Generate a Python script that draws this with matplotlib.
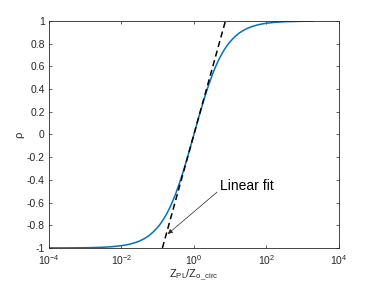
import matplotlib
matplotlib.use('Agg')
import matplotlib.pyplot as plt

plt.rcParams['font.family'] = ['Liberation Sans', 'DejaVu Sans']
plt.rcParams['mathtext.fontset'] = 'custom'
plt.rcParams['mathtext.rm'] = 'Liberation Sans'

# reflection coefficient vs normalised impedance
z_ratio = [1e-4, 3.16e-4, 1e-3, 1.78e-3, 3.16e-3, 5.62e-3, 1e-2, 1.33e-2,
           1.78e-2, 2.37e-2, 3.16e-2, 4.22e-2, 5.62e-2, 7.5e-2, 1e-1,
           1.15e-1, 1.33e-1, 1.54e-1, 1.78e-1, 2.05e-1, 2.37e-1, 2.74e-1,
           3.16e-1, 4.22e-1, 5.62e-1, 7.5e-1, 1.0, 1.33, 1.78, 2.37, 3.16,
           3.65, 4.22, 4.87, 5.62, 6.49, 7.5, 8.66, 10.0, 13.3, 17.8, 23.7,
           31.6, 42.2, 56.2, 75.0, 100.0, 178.0, 316.0, 1000.0, 2000.0]
rho = [-0.9998, -0.9994, -0.998, -0.9964, -0.9937, -0.9888, -0.980, -0.974,
       -0.965, -0.954, -0.939, -0.919, -0.894, -0.860, -0.818,
       -0.794, -0.765, -0.733, -0.698, -0.660, -0.617, -0.570,
       -0.520, -0.406, -0.280, -0.143, 0.0, 0.143, 0.280, 0.406, 0.520,
       0.570, 0.617, 0.660, 0.698, 0.733, 0.765, 0.793, 0.818, 0.860, 0.894,
       0.919, 0.939, 0.954, 0.965, 0.974, 0.980, 0.989, 0.9937, 0.998, 0.999]

# tangent (linear fit in log space)
fit_x = [0.135, 7.4]
fit_y = [-1.0, 1.0]

fig = plt.figure(figsize=(3.74, 2.84), dpi=100)
ax = fig.add_axes([0.131, 0.127, 0.775, 0.799])

ax.plot(z_ratio, rho, color='#0072BD', lw=1.1)
ax.plot(fit_x, fit_y, color='k', lw=1.1, ls=(0, (4, 2.5)))

ax.set_xscale('log')
ax.set_xlim(1e-4, 1e4)
ax.set_ylim(-1, 1)
ax.set_xticks([1e-4, 1e-2, 1e0, 1e2, 1e4])
ax.set_xticks([], minor=True)
ax.set_yticks([-1, -0.8, -0.6, -0.4, -0.2, 0, 0.2, 0.4, 0.6, 0.8, 1])
ax.set_yticklabels(['-1', '-0.8', '-0.6', '-0.4', '-0.2', '0', '0.2', '0.4',
                    '0.6', '0.8', '1'])

gray = '#262626'
for s in ax.spines.values():
    s.set_color(gray)
    s.set_linewidth(0.6)
ax.tick_params(which='both', direction='in', length=2.5, width=0.5,
               colors=gray, labelsize=7.5, top=True, right=True, pad=3)
ax.tick_params(axis='x', pad=4)

ax.set_ylabel('ρ', fontsize=8, color=gray, labelpad=2)
ax.set_xlabel(r'$\mathregular{Z_{PL}/Z_{o\_circ}}$', fontsize=8, color=gray,
              labelpad=0)

ax.annotate('Linear fit', xy=(0.19, -0.877), xytext=(5.2, -0.45),
            fontsize=10, color='k', va='center', ha='left',
            arrowprops=dict(arrowstyle='-|>', color='#262626', lw=0.5,
                            mutation_scale=7, shrinkA=0, shrinkB=0,
                            relpos=(0, 0.2)))

fig.savefig('out.png', dpi=100)
